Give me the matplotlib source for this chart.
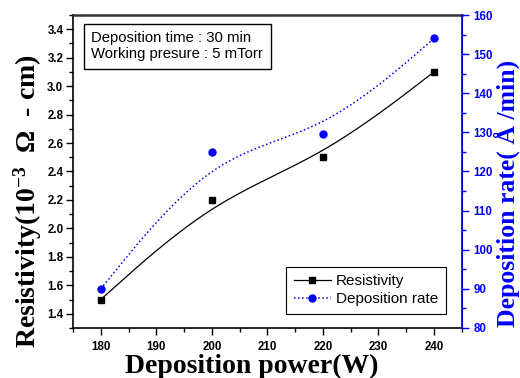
import numpy as np
import matplotlib
matplotlib.use("Agg")
import matplotlib.pyplot as plt
from matplotlib.ticker import MultipleLocator, FormatStrFormatter

# data
power = [180, 200, 220, 240]
resistivity = [1.5, 2.2, 2.5, 3.1]
dep_rate = [90, 125, 129.5, 154]


def bspline(x, y, n=60):
    # uniform cubic B-spline, end points tripled so the curve starts/ends on them
    px = np.r_[[x[0]] * 2, x, [x[-1]] * 2]
    py = np.r_[[y[0]] * 2, y, [y[-1]] * 2]
    t = np.linspace(0, 1, n)
    b0 = (1 - t) ** 3 / 6
    b1 = (3 * t**3 - 6 * t**2 + 4) / 6
    b2 = (-3 * t**3 + 3 * t**2 + 3 * t + 1) / 6
    b3 = t**3 / 6
    xs, ys = [], []
    for i in range(len(px) - 3):
        xs.append(b0 * px[i] + b1 * px[i + 1] + b2 * px[i + 2] + b3 * px[i + 3])
        ys.append(b0 * py[i] + b1 * py[i + 1] + b2 * py[i + 2] + b3 * py[i + 3])
    return np.concatenate(xs), np.concatenate(ys)


blue = '#0000ff'
sans = 'Liberation Sans'
serif = 'Liberation Serif'

plt.rcParams['font.family'] = sans
plt.rcParams['font.weight'] = 'bold'
plt.rcParams['mathtext.fontset'] = 'custom'
plt.rcParams['mathtext.rm'] = 'Liberation Serif:bold'
plt.rcParams['mathtext.bf'] = 'Liberation Serif:bold'
plt.rcParams['mathtext.default'] = 'rm'

fig = plt.figure(figsize=(5.2, 3.78), dpi=100)
ax = fig.add_axes([0.1404, 0.1323, 0.7476, 0.8280])
ax2 = ax.twinx()

# resistivity
cx, cy = bspline(power, resistivity)
ax.plot(cx, cy, color='black', lw=0.9)
ax.plot(power, resistivity, 's', color='black', ms=4.5)

# deposition rate
dx, dy = bspline(power, dep_rate)
ax2.plot(dx, dy, ':', color=blue, lw=1.1)
ax2.plot(power, dep_rate, 'o', color=blue, ms=5)

ax.set_xlim(175, 245)
ax.set_ylim(1.3, 3.5)
ax2.set_ylim(80, 160)

ax.xaxis.set_major_locator(MultipleLocator(10))
ax.xaxis.set_minor_locator(MultipleLocator(5))
ax.yaxis.set_major_locator(MultipleLocator(0.2))
ax.yaxis.set_minor_locator(MultipleLocator(0.1))
ax.yaxis.set_major_formatter(FormatStrFormatter('%.1f'))
ax2.yaxis.set_major_locator(MultipleLocator(10))
ax2.yaxis.set_minor_locator(MultipleLocator(5))

ax.tick_params(which='both', direction='out', top=False, right=False,
               labelsize=8.3, width=1)
ax.tick_params(which='major', length=5)
ax.tick_params(which='minor', length=3)
ax.tick_params(axis='y', pad=2)
ax.tick_params(axis='x', pad=4.5)
ax2.tick_params(which='both', direction='out', colors=blue, labelsize=8.3,
                width=1, pad=3.5)
ax2.tick_params(which='major', length=5)
ax2.tick_params(which='minor', length=3)

for s in ['left', 'bottom']:
    ax.spines[s].set_linewidth(1.2)
ax.spines['top'].set_linewidth(1.8)
ax.spines['top'].set_color('#333333')
ax2.spines['right'].set_color(blue)
ax2.spines['right'].set_linewidth(1.2)
ax2.spines['top'].set_visible(False)
ax2.spines['left'].set_visible(False)
ax2.spines['bottom'].set_visible(False)

ax.set_xlabel('Deposition power(W)', fontfamily=serif, fontweight='bold',
              fontsize=20)
ax.xaxis.set_label_coords(0.46, -0.082)
ax.set_ylabel('Resistivity(10$^{-3}$  Ω  - cm)', fontfamily=serif,
              fontweight='bold', fontsize=20)
ax.yaxis.set_label_coords(-0.075, 0.404)
ax2.set_ylabel('Deposition rate( Å /min)', fontfamily=serif,
               fontweight='bold', fontsize=18.5, color=blue)
ax2.yaxis.set_label_coords(1.083, 0.431)

ax.text(0.047, 0.948, 'Deposition time : 30 min\nWorking presure : 5 mTorr',
        transform=ax.transAxes, ha='left', va='top', fontfamily=sans,
        fontweight='normal', fontsize=10.7, linespacing=1.2,
        bbox=dict(boxstyle='square,pad=0.5', fc='white', ec='black', lw=1))

h1, = ax.plot([], [], '-s', color='black', lw=0.9, ms=4.5)
h2, = ax.plot([], [], ':o', color=blue, lw=1.1, ms=5)
leg = ax2.legend([h1, h2], ['Resistivity', 'Deposition rate'],
                 loc='lower right', bbox_to_anchor=(0.959, 0.045),
                 borderaxespad=0,
                 prop={'family': sans, 'size': 11, 'weight': 'normal'},
                 fancybox=False, edgecolor='black', framealpha=1,
                 borderpad=0.5, handlelength=2.4, handletextpad=0.35,
                 labelspacing=0.25)
leg.get_frame().set_linewidth(0.8)

fig.savefig('out.png', dpi=100)
